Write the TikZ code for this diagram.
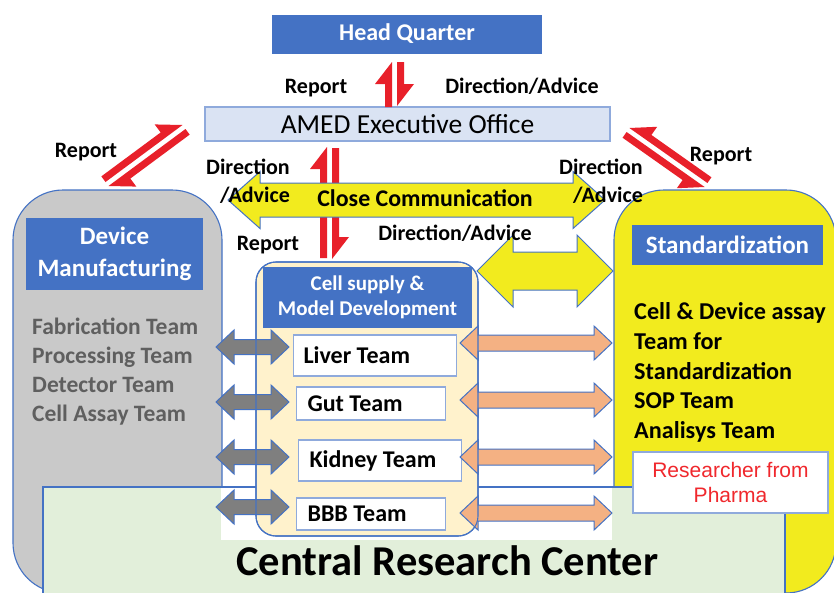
\documentclass[tikz,border=0pt]{standalone}
\usepackage{fontspec}
\setmainfont{Carlito}
\newfontfamily\arialfont{Liberation Sans}
\usetikzlibrary{calc}

\definecolor{hqblue}{HTML}{4472C4}
\definecolor{amedfill}{HTML}{DAE3F3}
\definecolor{ameddraw}{HTML}{8FAADC}
\definecolor{devgray}{HTML}{C9C9C9}
\definecolor{stdyellow}{HTML}{F2EB1E}
\definecolor{crcgreen}{HTML}{E2EFDA}
\definecolor{cellcream}{HTML}{FFF2CC}
\definecolor{arrowgray}{HTML}{7F7F7F}
\definecolor{arroworange}{HTML}{F4B183}
\definecolor{reportred}{HTML}{E8202A}
\definecolor{teamgray}{HTML}{5F5F5F}
\definecolor{pharmared}{HTML}{F0282D}

\tikzset{
  panel/.style={draw=hqblue, line width=1.1pt},
  header/.style={fill=hqblue, text=white, align=center, inner sep=0pt},
  teambox/.style={draw=ameddraw, fill=white, line width=1.1pt, anchor=west,
    inner xsep=11pt, inner ysep=0pt,
    font=\bfseries\fontsize{24}{29}\selectfont},
  lbl/.style={inner sep=0pt, font=\bfseries\fontsize{22}{28}\selectfont},
  grayblock/.style={fill=arrowgray, draw=hqblue, line width=1pt},
  orangeblock/.style={fill=arroworange, draw=hqblue, line width=1pt},
  yellowblock/.style={fill=stdyellow, draw=hqblue, line width=1pt}
}

% block arrow: style, left tip, right tip, y, shaft half, head half, head length
\newcommand{\blockarrow}[7]{%
  \draw[#1] (#2,#4) -- (#2+#7,#4-#6) -- (#2+#7,#4-#5) -- (#3-#7,#4-#5)
    -- (#3-#7,#4-#6) -- (#3,#4) -- (#3-#7,#4+#6) -- (#3-#7,#4+#5)
    -- (#2+#7,#4+#5) -- (#2+#7,#4+#6) -- cycle;}

% half arrow along its inner edge: from, to, side (90 left, -90 right)
\newcommand{\harpoon}[3]{%
  \fill[reportred] (#1) -- (#2)
    -- ($(#2)!22pt!(#1)!17pt!#3:(#2)$)
    -- ($(#2)!22pt!(#1)!7pt!#3:(#2)$)
    -- ($(#1)!7pt!#3:(#2)$) -- cycle;}

\begin{document}
\begin{tikzpicture}[x=1pt, y=-1pt]
    \clip (0,0) rectangle (834,592);
    \fill[white] (0,0) rectangle (834,592);

    % panels
    \draw[panel, fill=devgray, rounded corners=50pt] (13,190) rectangle (222,593);
    \draw[panel, fill=stdyellow, rounded corners=50pt] (614,190) rectangle (836,593);
    \draw[panel, fill=crcgreen] (43,487) rectangle (785,620);
    \fill[white] (221,488) rectangle (612,540);
    \draw[panel, fill=cellcream, rounded corners=20pt] (256,262) rectangle (478,536);

    % headers
    \node[header, minimum width=270pt, minimum height=39pt,
      font=\bfseries\fontsize{24}{29}\selectfont] (hq) at (407,34) {Head Quarter};
    \node[draw=ameddraw, fill=amedfill, line width=1.1pt, minimum width=405pt,
      minimum height=34pt, inner sep=0pt,
      font=\fontsize{27.5}{33}\selectfont] (amed) at (407.5,124) {AMED Executive Office};
    \node[header, minimum width=177pt, minimum height=72pt,
      font=\bfseries\fontsize{25}{32}\selectfont] (dev) at (114.5,254) {Device\\Manufacturing};
    \node[header, minimum width=209pt, minimum height=61pt,
      font=\bfseries\fontsize{21}{25}\selectfont] (cell) at (367.5,297.5) {Cell supply \&\\Model Development};
    \node[header, minimum width=191pt, minimum height=40pt,
      font=\bfseries\fontsize{25}{30}\selectfont] (std) at (727.5,245) {Standardization};

    % teams
    \node[teambox, minimum height=41pt, inner xsep=10pt] (liver) at (293,355.5) {\makebox[143pt][l]{Liver Team}};
    \node[teambox, minimum height=33pt] (gut) at (296,403.5) {\makebox[127pt][l]{Gut Team}};
    \node[teambox, minimum height=41pt] (kidney) at (298,460.5) {\makebox[141pt][l]{Kidney Team}};
    \node[teambox, minimum height=32pt] (bbb) at (296,514) {\makebox[127pt][l]{BBB Team}};

    \node[anchor=west, align=left, inner sep=0pt, text=teamgray,
      font=\bfseries\fontsize{23.5}{29}\selectfont] (devteams) at (32,371.5)
      {Fabrication Team\\Processing Team\\Detector Team\\Cell Assay Team};
    \node[anchor=west, align=left, inner sep=0pt,
      font=\bfseries\fontsize{24.2}{29.7}\selectfont] (stdteams) at (634,372.5)
      {Cell \& Device assay\\Team for\\Standardization\\SOP Team\\Analisys Team};
    \node[draw=ameddraw, fill=white, line width=1.1pt, minimum width=195pt,
      minimum height=61pt, inner sep=0pt, align=center, text=pharmared,
      font=\arialfont\fontsize{21}{25}\selectfont] (pharma) at (730.5,482.5)
      {Researcher from\\Pharma};
    \node[inner sep=0pt, font=\bfseries\fontsize{42.5}{50}\selectfont] (crc) at (447.5,561)
      {Central Research Center};

    % team arrows
    \foreach \y in {347,402,457,507} {
        \blockarrow{grayblock}{216}{289}{\y}{7.5}{17}{18}
    }
    \foreach \y in {343,400,457,513} {
        \blockarrow{orangeblock}{460}{612}{\y}{8}{17}{18}
    }
    \draw[panel, rounded corners=20pt] (256,262) rectangle (478,536);

    % report / direction between office and cell supply
    \coordinate (cellup) at (327,258);
    \coordinate (amedcu) at (327,147);
    \coordinate (amedcd) at (332,148);
    \coordinate (celldn) at (332,259);
    \harpoon{cellup}{amedcu}{90}
    \harpoon{amedcd}{celldn}{90}

    % yellow arrows
    \blockarrow{yellowblock}{228}{605}{200}{17}{28.5}{32}
    \blockarrow{yellowblock}{477}{613}{271}{19}{36}{36}
    \node[lbl, font=\bfseries\fontsize{23.9}{28}\selectfont] (close) at (425,198) {Close Communication};

    % report / direction harpoons
    \coordinate (amedup) at (392,107);
    \coordinate (hqup)   at (392,62);
    \coordinate (hqdn)   at (397,62);
    \coordinate (ameddn) at (397,106);
    \harpoon{amedup}{hqup}{90}
    \harpoon{hqdn}{ameddn}{90}

    \coordinate (devup)  at (105.5,182);
    \coordinate (amedl)  at (182.5,125);
    \coordinate (amedl2) at (185.5,129);
    \coordinate (devdn)  at (108.5,186);
    \harpoon{devup}{amedl}{90}
    \harpoon{amedl2}{devdn}{90}

    \coordinate (stdup)  at (707.4,183);
    \coordinate (amedr)  at (629.4,128);
    \coordinate (amedr2) at (626.6,132);
    \coordinate (stddn)  at (704.6,187);
    \harpoon{stdup}{amedr}{-90}
    \harpoon{amedr2}{stddn}{-90}

    % labels
    \node[lbl] (rep1) at (316,88) {Report};
    \node[lbl] (dir1) at (522,86) {Direction/Advice};
    \node[lbl] (rep2) at (86,152) {Report};
    \node[lbl] (rep3) at (721,156) {Report};
    \node[lbl] (rep4) at (268,245) {Report};
    \node[lbl] (dir2) at (455,233) {Direction/Advice};
    \node[lbl, align=right, anchor=east] (dir3) at (290,181) {Direction\\/Advice};
    \node[lbl, align=right, anchor=east] (dir4) at (643,181) {Direction\\/Advice};
\end{tikzpicture}
\end{document}
